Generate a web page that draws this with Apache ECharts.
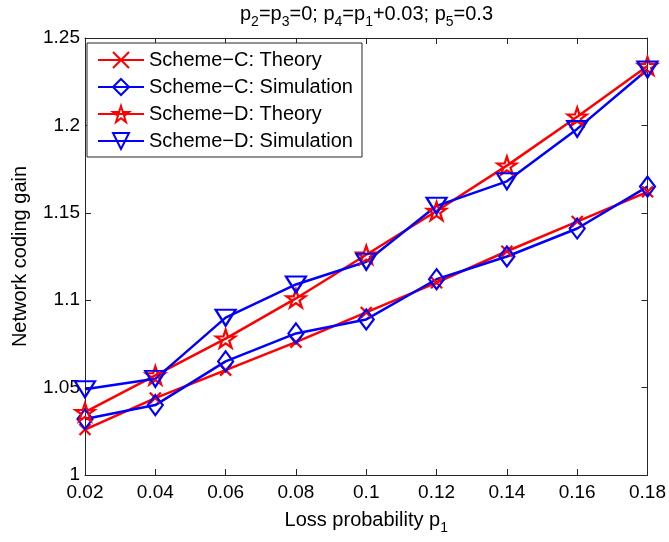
<!DOCTYPE html>
<html>
<head>
<meta charset="utf-8">
<script src="https://cdn.jsdelivr.net/npm/echarts@6/dist/echarts.min.js"></script>
<style>
  html, body { margin: 0; padding: 0; background: #fff; }
  #chart { width: 669px; height: 542px; }
</style>
</head>
<body>
<div id="chart"></div>
<script>
// Loss probability p1 on the horizontal axis
const lossProb = ['0.02', '0.04', '0.06', '0.08', '0.1', '0.12', '0.14', '0.16', '0.18'];

// Network coding gain for each scheme
const schemeCTheory = [1.026, 1.044, 1.060, 1.076, 1.093, 1.110, 1.128, 1.145, 1.162];
const schemeCSim    = [1.032, 1.040, 1.065, 1.081, 1.089, 1.112, 1.125, 1.141, 1.165];
const schemeDTheory = [1.036, 1.057, 1.078, 1.101, 1.126, 1.151, 1.177, 1.205, 1.234];
const schemeDSim    = [1.049, 1.055, 1.090, 1.109, 1.122, 1.154, 1.168, 1.198, 1.232];

const seriesNames = [
  'Scheme\u2212C: Theory',
  'Scheme\u2212C: Simulation',
  'Scheme\u2212D: Theory',
  'Scheme\u2212D: Simulation'
];

const FONT = '"Liberation Sans", Arial, Helvetica, sans-serif';
const RED = '#ff0000';
const BLUE = '#0000ff';
const AXIS = '#262626';

// Marker outlines (x, diamond, pentagram, down triangle)
const SYM_X = 'path://M0,0L10,10M10,0L0,10';
const SYM_DIAMOND = 'path://M5,0L10,7L5,14L0,7Z';
const SYM_STAR = 'path://M10,0L12.25,6.91L19.51,6.91L13.63,11.18L15.88,18.09L10,13.82L4.12,18.09L6.37,11.18L0.49,6.91L7.75,6.91Z';
const SYM_TRI = 'path://M0,0L10,0L5,8.66Z';

function makeSeries(name, values, color, symbol, size) {
  return {
    name: name,
    type: 'line',
    data: values,
    symbol: symbol,
    symbolSize: size,
    showAllSymbol: true,
    lineStyle: { color: color, width: 2.5 },
    itemStyle: { color: 'rgba(0,0,0,0)', borderColor: color, borderWidth: 2.2 },
    emphasis: { disabled: true },
    z: 3
  };
}

// Rich-text styles for normal text and subscripts
const subRich = {
  n: { fontSize: 20, lineHeight: 20, verticalAlign: 'top', fontWeight: 'normal', color: '#000', fontFamily: FONT },
  s: { fontSize: 14, lineHeight: 14, verticalAlign: 'top', fontWeight: 'normal', padding: [11, 0, 0, 0], color: '#000', fontFamily: FONT }
};

const chart = echarts.init(document.getElementById('chart'), null, { renderer: 'canvas' });

chart.setOption({
  backgroundColor: '#fff',
  animation: false,
  textStyle: { fontFamily: FONT },
  title: {
    text: '{n|p}{s|2}{n|=p}{s|3}{n|=0; p}{s|4}{n|=p}{s|1}{n|+0.03; p}{s|5}{n|=0.3}',
    left: 240,
    top: 4,
    padding: 0,
    textStyle: { fontWeight: 'normal', rich: subRich }
  },
  legend: {
    orient: 'vertical',
    left: 87,
    top: 43,
    padding: [7, 9, 6, 10],
    itemWidth: 46,
    itemHeight: 20,
    itemGap: 7,
    backgroundColor: '#fff',
    borderColor: AXIS,
    borderWidth: 1,
    borderRadius: 0,
    selectedMode: false,
    data: seriesNames,
    textStyle: { fontSize: 20, color: '#000', fontFamily: FONT },
    z: 10
  },
  grid: { left: 85, right: 21, top: 38, bottom: 67, containLabel: false },
  xAxis: [
    {
      type: 'category',
      data: lossProb,
      boundaryGap: false,
      name: '{n|Loss probability p}{s|1}',
      nameLocation: 'middle',
      nameGap: 35,
      nameTextStyle: { rich: subRich },
      axisLine: { show: true, lineStyle: { color: AXIS, width: 1 } },
      axisTick: { show: true, inside: true, length: 6, lineStyle: { color: AXIS } },
      axisLabel: { fontSize: 19, color: '#000', margin: 8, fontFamily: FONT },
      splitLine: { show: false }
    },
    {
      type: 'category',
      data: lossProb,
      boundaryGap: false,
      position: 'top',
      axisLine: { show: true, lineStyle: { color: AXIS, width: 1 } },
      axisTick: { show: true, inside: true, length: 6, lineStyle: { color: AXIS } },
      axisLabel: { show: false },
      splitLine: { show: false }
    }
  ],
  yAxis: [
    {
      type: 'value',
      min: 1,
      max: 1.25,
      interval: 0.05,
      name: 'Network coding gain',
      nameLocation: 'middle',
      nameGap: 55,
      nameTextStyle: { fontSize: 20, color: '#000', fontFamily: FONT },
      axisLine: { show: true, lineStyle: { color: AXIS, width: 1 } },
      axisTick: { show: true, inside: true, length: 6, lineStyle: { color: AXIS } },
      axisLabel: { fontSize: 19, color: '#000', margin: 5, fontFamily: FONT },
      splitLine: { show: false }
    },
    {
      type: 'value',
      min: 1,
      max: 1.25,
      interval: 0.05,
      position: 'right',
      axisLine: { show: true, lineStyle: { color: AXIS, width: 1 } },
      axisTick: { show: true, inside: true, length: 6, lineStyle: { color: AXIS } },
      axisLabel: { show: false },
      splitLine: { show: false }
    }
  ],
  series: [
    makeSeries(seriesNames[0], schemeCTheory, RED, SYM_X, [11, 11]),
    makeSeries(seriesNames[1], schemeCSim, BLUE, SYM_DIAMOND, [15, 20]),
    makeSeries(seriesNames[2], schemeDTheory, RED, SYM_STAR, [19, 18]),
    makeSeries(seriesNames[3], schemeDSim, BLUE, SYM_TRI, [20, 16])
  ]
});
</script>
</body>
</html>
